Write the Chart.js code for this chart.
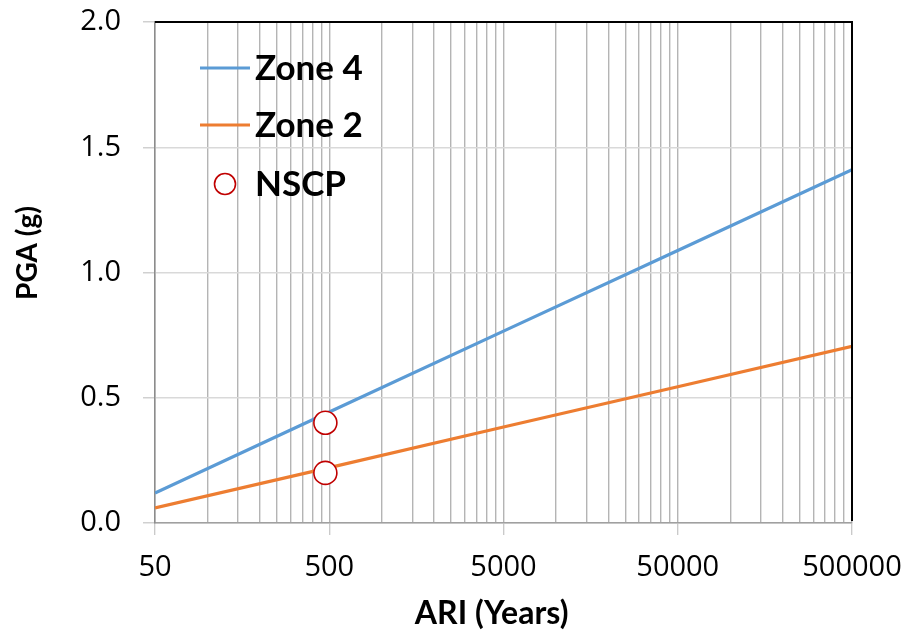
<!DOCTYPE html>
<html>
<head>
<meta charset="utf-8">
<script src="https://cdn.jsdelivr.net/npm/chart.js@4"></script>
<style>
  html, body { margin: 0; padding: 0; background: #fff; }
  #wrap { width: 909px; height: 636px; position: relative; }
</style>
</head>
<body>
<div id="wrap"><canvas id="c"></canvas></div>
<script>
// ---- Data ----
const ariYears = [50, 500, 5000, 50000, 500000];
const zone4Pga = [0.12, 0.443, 0.766, 1.088, 1.41];
const zone2Pga = [0.06, 0.221, 0.383, 0.544, 0.705];
const nscpAri = [475, 475];
const nscpPga = [0.4, 0.2];
const seriesNames = ['Zone 4', 'Zone 2', 'NSCP'];
const xTickLabels = ['50', '500', '5000', '50000', '500000'];
const yTickLabels = ['0.0', '0.5', '1.0', '1.5', '2.0'];
const xMinorMultipliers = [1, 2, 3, 4, 5, 6, 7, 8, 9];
const xTitle = 'ARI (Years)';
const yTitle = 'PGA (g)';

const xMajorValues = xTickLabels.map(Number);
const xGridValues = [];
xMajorValues.slice(0, -1).forEach(b => xMinorMultipliers.forEach(k => xGridValues.push(b * k)));
xGridValues.push(xMajorValues[xMajorValues.length - 1]);

const toPoints = (xs, ys) => xs.map((x, i) => ({ x: x, y: ys[i] }));

const tickFont = { family: '"Open Sans", sans-serif', size: 29 };
const boldFamily = 'Lato, "Open Sans", sans-serif';

const decorPlugin = {
  id: 'decor',
  afterDatasetsDraw(chart) {
    const { ctx, chartArea: a } = chart;
    ctx.save();
    ctx.strokeStyle = '#000';
    ctx.lineWidth = 2;
    ctx.beginPath();
    ctx.moveTo(a.left, a.top);
    ctx.lineTo(a.right, a.top);
    ctx.lineTo(a.right, a.bottom - 2);
    ctx.stroke();
    ctx.restore();
  },
  afterDraw(chart) {
    const { ctx, chartArea: a } = chart;
    const ds = chart.data.datasets;
    ctx.save();
    // legend
    ctx.font = 'bold 35px ' + boldFamily;
    ctx.fillStyle = '#000';
    ctx.textBaseline = 'middle';
    ctx.textAlign = 'left';
    const rows = [a.top + 46, a.top + 103, a.top + 162];
    const lx0 = a.left + 45, lx1 = a.left + 95, tx = a.left + 100;
    ds.forEach((d, i) => {
      const y = rows[i];
      if (d.showLine === false) {
        ctx.beginPath();
        ctx.arc((lx0 + lx1) / 2, y, 10.5, 0, Math.PI * 2);
        ctx.fillStyle = d.pointBackgroundColor;
        ctx.fill();
        ctx.lineWidth = d.pointBorderWidth;
        ctx.strokeStyle = d.pointBorderColor;
        ctx.stroke();
      } else {
        ctx.beginPath();
        ctx.moveTo(lx0, y);
        ctx.lineTo(lx1, y);
        ctx.lineWidth = d.borderWidth;
        ctx.strokeStyle = d.borderColor;
        ctx.stroke();
      }
      ctx.fillStyle = '#000';
      ctx.fillText(d.label, tx, y + 1);
    });
    // axis titles
    ctx.font = 'bold 32px ' + boldFamily;
    ctx.textAlign = 'center';
    ctx.fillText(xTitle, a.left + (a.right - a.left) * 0.483, chart.height - 22);
    ctx.translate(28, a.top + 231);
    ctx.rotate(-Math.PI / 2);
    ctx.font = 'bold 28px ' + boldFamily;
    ctx.fillText(yTitle, 0, 0);
    ctx.restore();
  }
};

new Chart(document.getElementById('c'), {
  type: 'line',
  data: {
    datasets: [
      {
        label: seriesNames[0],
        data: toPoints(ariYears, zone4Pga),
        borderColor: '#5B9BD5',
        backgroundColor: '#5B9BD5',
        borderWidth: 3.2,
        pointRadius: 0,
        tension: 0,
        order: 2
      },
      {
        label: seriesNames[1],
        data: toPoints(ariYears, zone2Pga),
        borderColor: '#ED7D31',
        backgroundColor: '#ED7D31',
        borderWidth: 3.2,
        pointRadius: 0,
        tension: 0,
        order: 1
      },
      {
        label: seriesNames[2],
        data: toPoints(nscpAri, nscpPga),
        showLine: false,
        pointRadius: 11.5,
        pointHoverRadius: 11.5,
        pointBorderWidth: 1.6,
        pointBorderColor: '#C00000',
        pointBackgroundColor: '#FFFFFF',
        borderColor: '#C00000',
        backgroundColor: '#FFFFFF',
        order: 0
      }
    ]
  },
  options: {
    responsive: true,
    maintainAspectRatio: false,
    animation: false,
    events: [],
    layout: { padding: { top: 22, right: 57, left: 0, bottom: 0 } },
    plugins: {
      legend: { display: false },
      tooltip: { enabled: false },
      title: { display: false }
    },
    scales: {
      x: {
        type: 'logarithmic',
        min: xMajorValues[0],
        max: xMajorValues[xMajorValues.length - 1],
        afterBuildTicks: (scale) => {
          scale.ticks = xGridValues.map(v => ({ value: v, major: xMajorValues.includes(v) }));
        },
        afterFit: (scale) => {
          scale.height = 113;
          scale.paddingLeft = 0; scale.paddingRight = 0;
          scale.paddingTop = 0; scale.paddingBottom = 0;
        },
        ticks: {
          autoSkip: false,
          maxRotation: 0,
          minRotation: 0,
          padding: 15,
          color: '#000',
          font: tickFont,
          callback: (v) => {
            const i = xMajorValues.indexOf(v);
            return i >= 0 ? xTickLabels[i] : '';
          }
        },
        grid: {
          color: '#B4B4B4',
          lineWidth: 1.4,
          tickLength: 12,
          tickWidth: 1.3,
          tickColor: (ctx) => (ctx.tick && xMajorValues.includes(ctx.tick.value)) ? '#C8C8C8' : 'rgba(0,0,0,0)'
        },
        border: { color: '#A0A0A0', width: 1.5 }
      },
      y: {
        min: 0,
        max: 2,
        afterFit: (scale) => {
          scale.width = 155;
          scale.paddingLeft = 0; scale.paddingRight = 0;
          scale.paddingTop = 0; scale.paddingBottom = 0;
        },
        ticks: {
          stepSize: 0.5,
          padding: 22,
          color: '#000',
          font: tickFont,
          callback: (v, i) => yTickLabels[i]
        },
        grid: {
          color: '#D9D9D9',
          lineWidth: 1.5,
          tickLength: 12,
          tickColor: '#D0D0D0'
        },
        border: { color: '#8C8C8C', width: 1.5 }
      }
    }
  },
  plugins: [decorPlugin]
});
</script>
</body>
</html>
